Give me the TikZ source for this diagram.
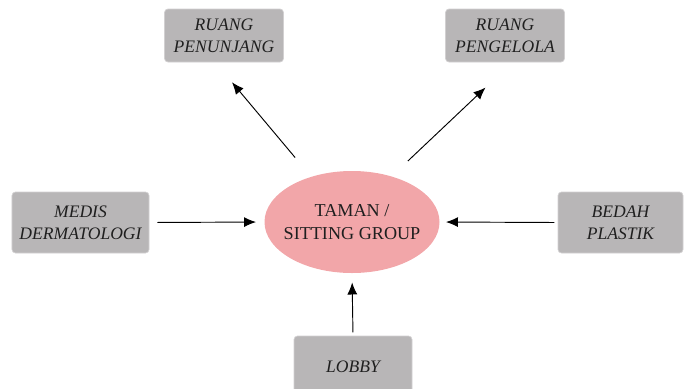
\documentclass[tikz,border=0pt]{standalone}
\usepackage{fontspec}
\setmainfont{Liberation Serif}
\usetikzlibrary{arrows.meta,shapes.geometric}
\definecolor{boxgray}{HTML}{B8B6B7}
\definecolor{boxline}{HTML}{D2D0D1}
\definecolor{tamanpink}{HTML}{F2A6A9}
\newcommand{\tline}[1]{\makebox[0pt]{#1}}
\tikzset{
  ruang/.style={rectangle, rounded corners=3pt, fill=boxgray, draw=boxline, line width=0.6pt,
    align=center, text=black!88, inner sep=0pt,
    font=\itshape\fontsize{15}{19}\selectfont},
  taman/.style={ellipse, fill=tamanpink, inner sep=0pt, align=center, text=black!88,
    minimum width=5.25cm, minimum height=3.06cm, font=\fontsize{15.5}{20}\selectfont}
}
\begin{document}
\begin{tikzpicture}[x=0.03cm, y=-0.03cm, >={Latex[length=0.36cm,width=0.3cm]}, line width=0.8pt]
\clip (0,0) rectangle (684,388);
\node[taman] (taman) at (352,222) {\tline{TAMAN /}\\\tline{SITTING GROUP}};
\node[ruang, minimum width=3.57cm, minimum height=1.59cm] (penunjang) at (224,35.5) {RUANG\\PENUNJANG};
\node[ruang, minimum width=3.57cm, minimum height=1.59cm] (pengelola) at (505,35.5) {RUANG\\PENGELOLA};
\node[ruang, minimum width=4.11cm, minimum height=1.83cm] (medis) at (80.5,222.5) {MEDIS\\DERMATOLOGI};
\node[ruang, minimum width=3.75cm, minimum height=1.83cm] (bedah) at (620.5,222.5) {BEDAH\\PLASTIK};
\node[ruang, minimum width=3.54cm, minimum height=1.83cm] (lobby) at (353,366.5) {LOBBY};

\draw[->, shorten <=0.74cm, shorten >=0.78cm] (taman.132) -- (penunjang.-108);
\draw[->, shorten <=0.66cm, shorten >=1.1cm] (taman.49) -- (pengelola.-75);
\draw[->, shorten <=0.24cm, shorten >=0.24cm] (medis.east) -- (taman.west);
\draw[->, shorten <=0.1cm, shorten >=0.18cm] (bedah.west) -- (taman.east);
\draw[->, shorten <=0.1cm, shorten >=0.27cm] (lobby.north) -- (taman.south);
\end{tikzpicture}
\end{document}
